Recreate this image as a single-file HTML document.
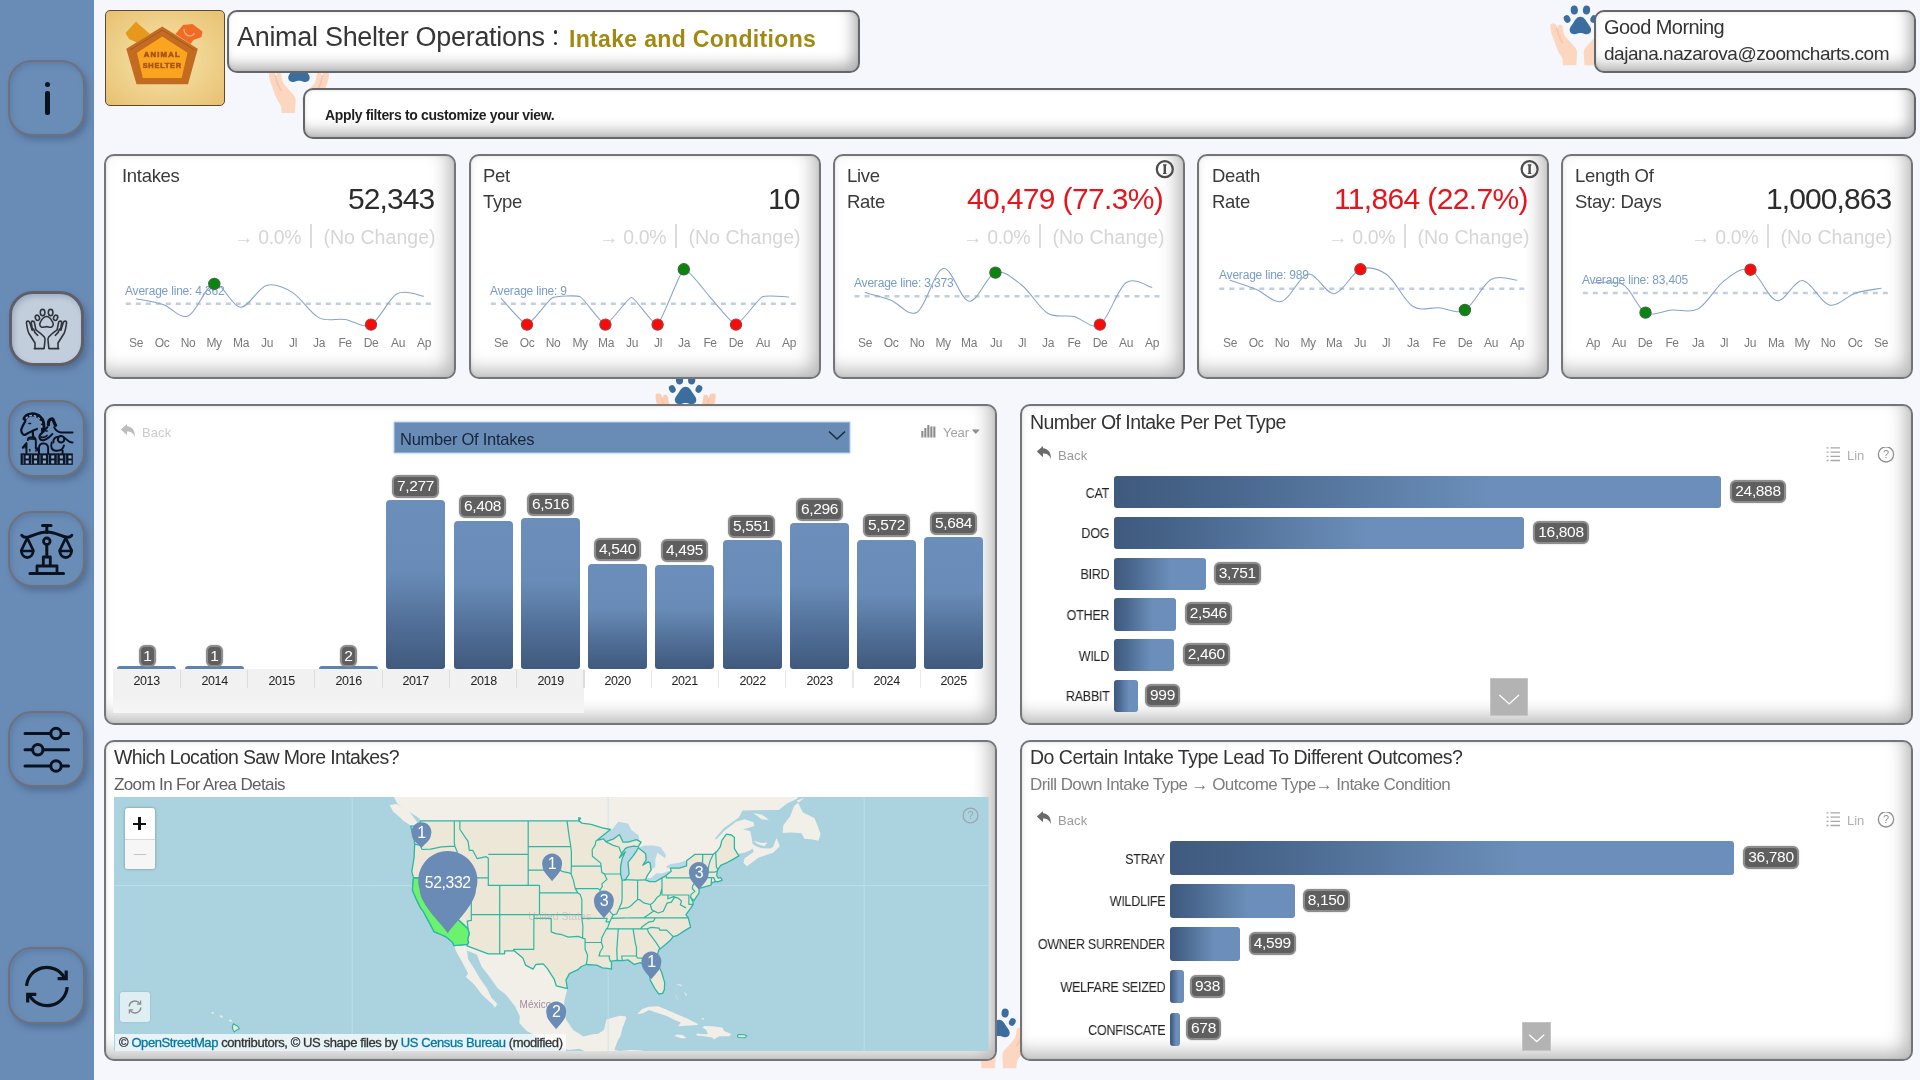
<!DOCTYPE html>
<html lang="en"><head><meta charset="utf-8"><title>Animal Shelter Operations</title>
<style>
*{box-sizing:border-box;margin:0;padding:0}
html,body{width:1920px;height:1080px;overflow:hidden}
body{background:#f5f7fc;font-family:"Liberation Sans",sans-serif;color:#333;position:relative}
.abs{position:absolute}
svg{will-change:transform}
.t{position:absolute;white-space:nowrap;line-height:1;transform-origin:0 0;will-change:transform}
.side{position:absolute;left:0;top:0;width:94px;height:1080px;background:#698cb7}
.sbtn{position:absolute;left:8.200px;width:77px;height:76.500px;border:2.600px solid #6e717b;border-radius:24px;background:#6a8db8;box-shadow:3px 4px 6px rgba(40,60,90,.35), inset 2px 3px 5px rgba(60,85,120,.25)}
.sbtn.act{background:#c3cedc;border-color:#5e5f68;left:8.800px;width:75.500px;height:75px;border-width:3px}
.box{position:absolute;background:#fff;border:2px solid #64666a;border-radius:10px;box-shadow:inset -7px -8px 14px -2px rgba(0,0,0,.30), inset 0 0 3px rgba(0,0,0,.10)}
.card{position:absolute;background:#fff;border:2px solid #747578;border-radius:10px;box-shadow:inset -8px -9px 18px -2px rgba(0,0,0,.27), inset 0 0 3px rgba(0,0,0,.10)}
.panel{position:absolute;background:#fff;border:2px solid #747578;border-radius:10px;box-shadow:inset -8px -9px 18px -2px rgba(0,0,0,.27), inset 0 0 3px rgba(0,0,0,.10)}
.vl{will-change:transform;position:absolute;background:#5f5f5f;border:2px solid #8d8d8d;border-radius:6px;color:#fff;font-size:15.500px;line-height:18.500px;height:22.500px;text-align:center;white-space:nowrap;box-shadow:0 0 1.500px rgba(120,120,120,.55)}
.hb{position:absolute;height:33px;border-radius:3px;background:linear-gradient(90deg,#3f5a7e 0,#6b8fba 330px)}
.cl{will-change:transform;position:absolute;font-size:14.500px;color:#222;text-align:right;white-space:nowrap;line-height:1;transform:scaleX(.865);transform-origin:100% 50%;letter-spacing:-.3px}
</style></head><body>
<svg class="abs" style="left:0;top:0" width="1920" height="1080" viewBox="0 0 1920 1080">
<g transform="translate(299 73.7) scale(1.0)"><path d="M-30-1.500c-.5 5 1.200 9.800 3 14.100 1.500 4.500 3.200 9 5.100 13.300 1.400 2.700 3.800 5 4.100 7.400l.4 6h13.300l.8-13.400c-.6-3.600-3.600-6.200-6-8.900-2.500-2.900-5-5.200-6.600-8.100-1.300-2.500-1.400-6.500-2.200-8.900-.6-1.700-3.300-1.800-4.200 0-.5 1 .2 5.500-.2 5.500s-.9-4.600-1.700-6.600c-.9-1.700-4.800-2-5.800-.4z" fill="#fcd6bf"/><path d="M30-1.500c.5 5-1.200 9.800-3 14.100-1.500 4.500-3.200 9-5.100 13.300-1.400 2.700-3.800 5-4.100 7.400l-.4 6h-13.300l-.8-13.400c.6-3.600 3.600-6.200 6-8.900 2.500-2.900 5-5.200 6.600-8.100 1.300-2.500 1.400-6.500 2.200-8.900.6-1.700 3.300-1.800 4.200 0 .5 1-.2 5.500.2 5.500s.9-4.600 1.700-6.600c.9-1.700 4.800-2 5.800-.4z" fill="#fcd6bf"/><path d="M-23.500 2c.8 6 2.800 10.500 5.500 14.500" stroke="#f6c4a8" stroke-width="1.600" fill="none" stroke-linecap="round"/><path d="M23.500 2c-.8 6-2.800 10.500-5.500 14.500" stroke="#f6c4a8" stroke-width="1.600" fill="none" stroke-linecap="round"/><g fill="#3b6e9f"><ellipse cx="-6.100" cy="-16" rx="3.600" ry="4.500" transform="rotate(-6 -6.100 -16)"/><ellipse cx="6.100" cy="-16" rx="3.600" ry="4.500" transform="rotate(6 6.100 -16)"/><ellipse cx="-13.300" cy="-7" rx="3.200" ry="3.900" transform="rotate(-28 -13.300 -7)"/><ellipse cx="13.300" cy="-7" rx="3.200" ry="3.900" transform="rotate(28 13.300 -7)"/><path d="M0-9.300c-3.300 0-5.200 3-7 6-1.700 2.600-4.300 5-3.600 8.300.6 2.800 3.600 3.700 6 3.100 1.600-.4 3-1 4.600-1s3 .6 4.600 1c2.400.6 5.400-.3 6-3.100.7-3.300-1.900-5.700-3.600-8.300-1.800-3-3.700-6-7-6z"/></g></g>
<g transform="translate(1580.4 26) scale(1.0)"><path d="M-30-1.500c-.5 5 1.200 9.800 3 14.100 1.500 4.500 3.200 9 5.100 13.300 1.400 2.700 3.800 5 4.100 7.400l.4 6h13.300l.8-13.400c-.6-3.600-3.600-6.200-6-8.900-2.500-2.900-5-5.200-6.600-8.100-1.300-2.500-1.400-6.500-2.200-8.900-.6-1.700-3.300-1.800-4.200 0-.5 1 .2 5.500-.2 5.500s-.9-4.600-1.700-6.600c-.9-1.700-4.800-2-5.800-.4z" fill="#fcd6bf"/><path d="M30-1.500c.5 5-1.200 9.800-3 14.100-1.500 4.500-3.200 9-5.100 13.300-1.400 2.700-3.800 5-4.100 7.400l-.4 6h-13.300l-.8-13.400c.6-3.600 3.600-6.200 6-8.900 2.500-2.900 5-5.200 6.600-8.100 1.300-2.500 1.400-6.500 2.200-8.900.6-1.700 3.300-1.800 4.200 0 .5 1-.2 5.500.2 5.500s.9-4.600 1.700-6.600c.9-1.700 4.800-2 5.800-.4z" fill="#fcd6bf"/><path d="M-23.500 2c.8 6 2.800 10.500 5.500 14.500" stroke="#f6c4a8" stroke-width="1.600" fill="none" stroke-linecap="round"/><path d="M23.500 2c-.8 6-2.800 10.500-5.500 14.500" stroke="#f6c4a8" stroke-width="1.600" fill="none" stroke-linecap="round"/><g fill="#3b6e9f"><ellipse cx="-6.100" cy="-16" rx="3.600" ry="4.500" transform="rotate(-6 -6.100 -16)"/><ellipse cx="6.100" cy="-16" rx="3.600" ry="4.500" transform="rotate(6 6.100 -16)"/><ellipse cx="-13.300" cy="-7" rx="3.200" ry="3.900" transform="rotate(-28 -13.300 -7)"/><ellipse cx="13.300" cy="-7" rx="3.200" ry="3.900" transform="rotate(28 13.300 -7)"/><path d="M0-9.300c-3.300 0-5.200 3-7 6-1.700 2.600-4.300 5-3.600 8.300.6 2.800 3.600 3.700 6 3.100 1.600-.4 3-1 4.600-1s3 .6 4.600 1c2.400.6 5.400-.3 6-3.100.7-3.300-1.900-5.700-3.600-8.300-1.800-3-3.700-6-7-6z"/></g></g>
<g transform="translate(685.6 396) scale(1.0)"><path d="M-30-1.500c-.5 5 1.200 9.800 3 14.100 1.500 4.500 3.200 9 5.100 13.300 1.400 2.700 3.800 5 4.100 7.400l.4 6h13.300l.8-13.400c-.6-3.600-3.600-6.200-6-8.900-2.500-2.900-5-5.200-6.600-8.100-1.300-2.500-1.400-6.500-2.200-8.900-.6-1.700-3.300-1.800-4.200 0-.5 1 .2 5.500-.2 5.500s-.9-4.600-1.700-6.600c-.9-1.700-4.800-2-5.800-.4z" fill="#fbcdb2"/><path d="M30-1.500c.5 5-1.200 9.800-3 14.100-1.500 4.500-3.200 9-5.100 13.300-1.400 2.700-3.800 5-4.100 7.400l-.4 6h-13.300l-.8-13.400c.6-3.600 3.600-6.200 6-8.900 2.500-2.900 5-5.200 6.600-8.100 1.300-2.500 1.400-6.500 2.200-8.900.6-1.700 3.300-1.800 4.200 0 .5 1-.2 5.500.2 5.500s.9-4.600 1.700-6.600c.9-1.700 4.800-2 5.800-.4z" fill="#fbcdb2"/><path d="M-23.500 2c.8 6 2.800 10.500 5.500 14.500" stroke="#f6c4a8" stroke-width="1.600" fill="none" stroke-linecap="round"/><path d="M23.500 2c-.8 6-2.800 10.500-5.500 14.500" stroke="#f6c4a8" stroke-width="1.600" fill="none" stroke-linecap="round"/><g fill="#3b6e9f"><ellipse cx="-6.100" cy="-16" rx="3.600" ry="4.500" transform="rotate(-6 -6.100 -16)"/><ellipse cx="6.100" cy="-16" rx="3.600" ry="4.500" transform="rotate(6 6.100 -16)"/><ellipse cx="-13.300" cy="-7" rx="3.200" ry="3.900" transform="rotate(-28 -13.300 -7)"/><ellipse cx="13.300" cy="-7" rx="3.200" ry="3.900" transform="rotate(28 13.300 -7)"/><path d="M0-9.300c-3.300 0-5.200 3-7 6-1.700 2.600-4.300 5-3.600 8.300.6 2.800 3.600 3.700 6 3.100 1.600-.4 3-1 4.600-1s3 .6 4.600 1c2.400.6 5.400-.3 6-3.100.7-3.300-1.900-5.700-3.600-8.300-1.800-3-3.700-6-7-6z"/></g></g>
<g transform="translate(999 1029) scale(1.0)"><path d="M-30-1.500c-.5 5 1.200 9.800 3 14.100 1.500 4.500 3.200 9 5.100 13.300 1.400 2.700 3.800 5 4.100 7.400l.4 6h13.300l.8-13.400c-.6-3.600-3.600-6.200-6-8.900-2.500-2.900-5-5.200-6.600-8.100-1.300-2.500-1.400-6.500-2.200-8.900-.6-1.700-3.300-1.800-4.200 0-.5 1 .2 5.500-.2 5.500s-.9-4.600-1.700-6.600c-.9-1.700-4.800-2-5.800-.4z" fill="#fcd6bf"/><path d="M30-1.500c.5 5-1.200 9.800-3 14.100-1.500 4.500-3.200 9-5.100 13.300-1.400 2.700-3.800 5-4.100 7.400l-.4 6h-13.300l-.8-13.400c.6-3.600 3.600-6.200 6-8.900 2.500-2.900 5-5.200 6.600-8.100 1.300-2.500 1.400-6.500 2.200-8.900.6-1.700 3.300-1.800 4.200 0 .5 1-.2 5.500.2 5.500s.9-4.600 1.700-6.600c.9-1.700 4.800-2 5.800-.4z" fill="#fcd6bf"/><path d="M-23.500 2c.8 6 2.800 10.500 5.500 14.500" stroke="#f6c4a8" stroke-width="1.600" fill="none" stroke-linecap="round"/><path d="M23.500 2c-.8 6-2.800 10.500-5.500 14.500" stroke="#f6c4a8" stroke-width="1.600" fill="none" stroke-linecap="round"/><g fill="#3b6e9f"><ellipse cx="-6.100" cy="-16" rx="3.600" ry="4.500" transform="rotate(-6 -6.100 -16)"/><ellipse cx="6.100" cy="-16" rx="3.600" ry="4.500" transform="rotate(6 6.100 -16)"/><ellipse cx="-13.300" cy="-7" rx="3.200" ry="3.900" transform="rotate(-28 -13.300 -7)"/><ellipse cx="13.300" cy="-7" rx="3.200" ry="3.900" transform="rotate(28 13.300 -7)"/><path d="M0-9.300c-3.300 0-5.200 3-7 6-1.700 2.600-4.300 5-3.600 8.300.6 2.800 3.600 3.700 6 3.100 1.600-.4 3-1 4.600-1s3 .6 4.600 1c2.400.6 5.400-.3 6-3.100.7-3.300-1.900-5.700-3.600-8.300-1.800-3-3.700-6-7-6z"/></g></g>
</svg>
<div class="abs" style="left:105px;top:10px;width:120px;height:95.500px;border:1.500px solid #5d4a2c;border-radius:5px;background:radial-gradient(ellipse at 50% 50%,#f6e6b0 0,#f0d592 45%,#e8c070 100%)"></div>
<svg class="abs" style="left:105px;top:10px" width="120" height="96" viewBox="0 0 120 96"><polygon points="20.500,23 31,11.500 34,14.500 45,24 32,32.500 24,29" fill="#e6981d"/><polygon points="70.500,24 78,15 87.500,14 97.500,21.500 96.500,27 88.500,30 85.500,34" fill="#f06c25"/><path d="M79 19c0 4 2.500 7 6 7 2 0 3.500-1 4.500-3" fill="none" stroke="#f8b08a" stroke-width="1.200"/><polygon points="57.300,16.400 21.300,38.700 31.500,74.300 83,74.300 92.800,38.700" fill="#c46b22"/><polygon points="57.300,26.600 32,42.700 37.800,68 76.700,68 82.500,42.700" fill="#fba41f"/><path d="M25 40l32.300-20 32.200 20" fill="none" stroke="#a9561b" stroke-width="1"/><text x="57.300" y="46.500" text-anchor="middle" font-family="Liberation Sans" font-weight="bold" font-size="7.800" fill="#a8521a" letter-spacing="1.1" stroke="#a8521a" stroke-width=".6">ANIMAL</text><text x="57.300" y="57.800" text-anchor="middle" font-family="Liberation Sans" font-weight="bold" font-size="7.400" fill="#a8521a" letter-spacing=".75" stroke="#a8521a" stroke-width=".5">SHELTER</text></svg>
<div class="box" style="left:226.500px;top:9.500px;width:633px;height:63.500px"></div>
<div class="t" style="left:237px;top:23.5px;font-size:27px;color:#363636;letter-spacing:-0.3px;">Animal Shelter Operations</div>
<div class="abs" style="left:553.500px;top:30px;width:3.600px;height:3.600px;border-radius:50%;background:#2b2b2b"></div>
<div class="abs" style="left:553.500px;top:41.500px;width:3.600px;height:3.600px;border-radius:50%;background:#2b2b2b"></div>
<div class="t" style="left:569px;top:27.5px;font-size:23px;color:#a08a12;font-weight:bold;letter-spacing:0.33px;">Intake and Conditions</div>
<div class="box" style="left:303px;top:87.500px;width:1612.500px;height:51.500px"></div>
<div class="t" style="left:325px;top:107.5px;font-size:14px;color:#1f1f1f;font-weight:bold;letter-spacing:-0.35px;">Apply filters to customize your view.</div>
<div class="box" style="left:1593.500px;top:9.500px;width:322px;height:63.500px;overflow:hidden"><div class="abs" style="left:60px;top:59px;width:180px;height:1px;border-top:1.500px dashed #9a9a9a;opacity:.6"></div></div>
<div class="t" style="left:1604px;top:16.8px;font-size:20px;color:#333;letter-spacing:-0.55px;">Good Morning</div>
<div class="t" style="left:1604px;top:43.5px;font-size:19px;color:#333;letter-spacing:-0.47px;">dajana.nazarova@zoomcharts.com</div>
<div class="side"></div>
<div class="sbtn" style="top:59.5px"></div>
<div class="sbtn act" style="top:290.6px"></div>
<div class="sbtn" style="top:400.4px"></div>
<div class="sbtn" style="top:510.5px"></div>
<div class="sbtn" style="top:710.5px"></div>
<div class="sbtn" style="top:947.4px"></div>
<div class="abs" style="left:44.5px;top:82px;width:5px;height:5px;border-radius:50%;background:#0a1220"></div>
<div class="abs" style="left:44.5px;top:91px;width:5px;height:24px;border-radius:2px;background:#0a1220"></div>
<svg class="abs" style="left:0;top:0" width="95" height="1080" viewBox="0 0 95 1080" fill="none" stroke="#0a1220" stroke-linecap="round" stroke-linejoin="round">
<g stroke="#2f343c" stroke-width="1.6"><ellipse cx="42.6" cy="312.6" rx="2.3" ry="3.2"/><ellipse cx="50.6" cy="312.6" rx="2.3" ry="3.2"/><ellipse cx="37.4" cy="317.8" rx="2" ry="2.7" transform="rotate(-20 37.4 317.8)"/><ellipse cx="55.6" cy="317.8" rx="2" ry="2.7" transform="rotate(20 55.6 317.8)"/><path d="M46.5 316.5c-2.6 0-4.3 2.4-5.6 4.6-1.2 1.9-2 4.6 0.4 5.9 1.8 0.9 3.5-0.4 5.2-0.4s3.4 1.3 5.2 0.4c2.4-1.3 1.6-4 0.4-5.9-1.3-2.2-3-4.6-5.6-4.600z"/><path d="M35 348.5v-5.5l-6-9.5c-1-1.800-2.200-8-2.600-11 .1-1.600 2.600-2 3.300 0l2.400 7.500"/><path d="M32.500 330l-1.300-7.500c.1-1.700 2.700-1.900 3.200-.200l1.500 7.500c3 2.200 6.500 4.800 8.400 7.200 1.200 1.600 .900 3.400 .500 5.300l-.700 6.200"/><path d="M33.500 329c.400 2.500 2 4.500 4.200 6.300"/><path d="M34.300 348.600h9.400"/><path d="M58 348.500v-5.500l6-9.500c1-1.800 2.200-8 2.600-11-.1-1.600-2.600-2-3.300 0l-2.400 7.500"/><path d="M60.500 330l1.300-7.500c-.1-1.700-2.700-1.900-3.200-.200l-1.500 7.500c-3 2.200-6.500 4.800-8.400 7.200-1.200 1.600-.900 3.400-.500 5.300l.700 6.200"/><path d="M59.500 329c-.400 2.500-2 4.500-4.200 6.300"/><path d="M58.700 348.600h-9.400"/></g>
<g transform="translate(16 408) scale(.0574)" stroke-width="38"><rect x="80" y="790" width="910" height="200" fill="#0d1626" stroke="none"/><rect x="168" y="826" width="54" height="54" fill="#8ca6c8" stroke="none"/><rect x="168" y="913" width="54" height="54" fill="#8ca6c8" stroke="none"/><rect x="313" y="826" width="54" height="54" fill="#8ca6c8" stroke="none"/><rect x="313" y="913" width="54" height="54" fill="#8ca6c8" stroke="none"/><rect x="468" y="826" width="54" height="54" fill="#8ca6c8" stroke="none"/><rect x="468" y="913" width="54" height="54" fill="#8ca6c8" stroke="none"/><rect x="613" y="826" width="54" height="54" fill="#8ca6c8" stroke="none"/><rect x="613" y="913" width="54" height="54" fill="#8ca6c8" stroke="none"/><rect x="763" y="826" width="54" height="54" fill="#8ca6c8" stroke="none"/><rect x="763" y="913" width="54" height="54" fill="#8ca6c8" stroke="none"/><rect x="913" y="826" width="54" height="54" fill="#8ca6c8" stroke="none"/><rect x="913" y="913" width="54" height="54" fill="#8ca6c8" stroke="none"/><rect x="118" y="815" width="14" height="160" fill="#5f7ea8" stroke="none"/><rect x="261" y="815" width="14" height="160" fill="#5f7ea8" stroke="none"/><rect x="411" y="815" width="14" height="160" fill="#5f7ea8" stroke="none"/><rect x="561" y="815" width="14" height="160" fill="#5f7ea8" stroke="none"/><rect x="709" y="815" width="14" height="160" fill="#5f7ea8" stroke="none"/><rect x="859" y="815" width="14" height="160" fill="#5f7ea8" stroke="none"/><path d="M150 185C190 100 330 85 420 165C475 215 485 300 470 395" stroke-width="74"/><path d="M178 178C215 118 320 112 395 175C440 218 452 290 448 360" stroke="#8ba5c8" stroke-width="26" stroke-dasharray="26 52"/><path d="M165 225C130 290 92 345 90 395C98 440 128 475 152 470C205 440 285 395 365 365"/><path d="M292 400C290 450 298 500 312 540"/><path d="M225 270l30 0" stroke-width="26"/><path d="M565 295C560 235 590 195 630 188C662 205 655 255 690 300" stroke-width="56"/><path d="M545 335C500 385 440 440 412 482C400 530 432 572 482 560C540 545 600 490 632 455"/><path d="M440 505C470 520 510 505 540 480" stroke-width="30"/><path d="M665 335C690 392 722 420 782 426L985 428" stroke-width="34"/><path d="M520 400l24 0" stroke-width="24"/><circle cx="785" cy="545" r="56" stroke-width="36"/><path d="M652 600C640 540 690 498 742 500M838 515C880 535 900 600 985 602" stroke-width="34"/><path d="M622 600C600 680 622 742 700 746C772 750 822 722 836 652M812 742V790" stroke-width="34"/><path d="M118 692L182 612V790M205 560C205 520 240 505 300 510C332 516 346 540 346 582V700" stroke-width="34"/><path d="M112 690l55-62v62zM335 745l35-60 40 60z" fill="#0a1220" stroke-width="10"/><path d="M400 790V700C400 642 440 616 482 616C532 620 560 660 560 702V790" stroke-width="34"/><path d="M232 540h70M240 720v30" stroke-width="24"/></g>
<g stroke-width="3"><path d="M42.500 525.500h8.500"/><path d="M46.800 526v6.500M46.800 544.500v12"/><circle cx="46.800" cy="541.300" r="3.300" stroke-width="2.800"/><path d="M21.800 535.300c1.500 2 4 2.500 7 1.500 5.500-1.800 11.500-4.800 18-4.800s12.500 3 18 4.800c3 1 5.500.5 7-1.500"/><path d="M27.300 538l-6 12.500c.3 4 2.800 7 6 7s5.700-3 6-7z" stroke-width="2.800"/><path d="M21.500 551h11.600" stroke-width="2.600"/><path d="M65.700 538l-6 12.500c.3 4 2.800 7 6 7s5.700-3 6-7z" stroke-width="2.800"/><path d="M59.900 551h11.600" stroke-width="2.600"/><path d="M43.300 565.500v-8.500h7v8.500" stroke-width="2.800"/><path d="M37 573v-7h20v7" stroke-width="2.800"/><path d="M30 573.600h33.500"/></g>
<g stroke-width="3"><path d="M25 733.500h25.500M61.500 733.500h7"/><circle cx="56" cy="733.500" r="5.200"/><path d="M25 749.800h7.500M43.300 749.800h25.200"/><circle cx="37.800" cy="749.800" r="5.200"/><path d="M25 766h25.500M61.500 766h7"/><circle cx="56" cy="766" r="5.200"/></g>
<g stroke-width="3.200" stroke-linecap="butt" stroke-linejoin="miter"><path d="M26.600 985.800a20.200 20.200 0 0 1 37.500-8.600"/><path d="M66.200 970.600v8h-8.600" /><path d="M67.200 987.200a20.200 20.200 0 0 1-37.500 8.600"/><path d="M27.700 1002.400v-8h8.600"/></g>
</svg>
<div class="card" style="left:103.8px;top:153.800px;width:352px;height:225px"></div>
<div class="t" style="left:122.0px;top:167px;font-size:18.5px;color:#3a3a3a;letter-spacing:-0.3px;">Intakes</div>
<div class="t" style="right:1485.7px;top:183.600px;font-size:30px;color:#2c2c2c;letter-spacing:-0.92px">52,343</div>
<div class="t" style="right:1484.2px;top:223.500px;font-size:19.500px;color:#d6d6d6;letter-spacing:-.350px">→ 0.0% <span style="display:inline-block;width:2px;height:24px;background:#dcdcdc;vertical-align:-4px;margin:0 6px 0 4px"></span> <span style="letter-spacing:.050px">(No Change)</span></div>
<div class="t" style="left:125.3px;top:284.6070526774053px;font-size:12px;color:#7a9bc8;letter-spacing:-0.2px;">Average line: 4,362</div>
<div class="t" style="left:121.0px;top:337px;width:30px;text-align:center;font-size:12px;color:#7a7a7a;letter-spacing:-.400px">Se</div>
<div class="t" style="left:147.2px;top:337px;width:30px;text-align:center;font-size:12px;color:#7a7a7a;letter-spacing:-.400px">Oc</div>
<div class="t" style="left:173.3px;top:337px;width:30px;text-align:center;font-size:12px;color:#7a7a7a;letter-spacing:-.400px">No</div>
<div class="t" style="left:199.4px;top:337px;width:30px;text-align:center;font-size:12px;color:#7a7a7a;letter-spacing:-.400px">My</div>
<div class="t" style="left:225.6px;top:337px;width:30px;text-align:center;font-size:12px;color:#7a7a7a;letter-spacing:-.400px">Ma</div>
<div class="t" style="left:251.8px;top:337px;width:30px;text-align:center;font-size:12px;color:#7a7a7a;letter-spacing:-.400px">Ju</div>
<div class="t" style="left:277.9px;top:337px;width:30px;text-align:center;font-size:12px;color:#7a7a7a;letter-spacing:-.400px">Jl</div>
<div class="t" style="left:304.0px;top:337px;width:30px;text-align:center;font-size:12px;color:#7a7a7a;letter-spacing:-.400px">Ja</div>
<div class="t" style="left:330.2px;top:337px;width:30px;text-align:center;font-size:12px;color:#7a7a7a;letter-spacing:-.400px">Fe</div>
<div class="t" style="left:356.4px;top:337px;width:30px;text-align:center;font-size:12px;color:#7a7a7a;letter-spacing:-.400px">De</div>
<div class="t" style="left:382.5px;top:337px;width:30px;text-align:center;font-size:12px;color:#7a7a7a;letter-spacing:-.400px">Au</div>
<div class="t" style="left:408.6px;top:337px;width:30px;text-align:center;font-size:12px;color:#7a7a7a;letter-spacing:-.400px">Ap</div>
<div class="card" style="left:468.8px;top:153.800px;width:352px;height:225px"></div>
<div class="t" style="left:483.2px;top:167px;font-size:18.5px;color:#3a3a3a;letter-spacing:-0.3px;">Pet</div>
<div class="t" style="left:483.2px;top:192.5px;font-size:18.5px;color:#3a3a3a;letter-spacing:-0.3px;">Type</div>
<div class="t" style="right:1120.7px;top:183.600px;font-size:30px;color:#2c2c2c;letter-spacing:-0.92px">10</div>
<div class="t" style="right:1119.2px;top:223.500px;font-size:19.500px;color:#d6d6d6;letter-spacing:-.350px">→ 0.0% <span style="display:inline-block;width:2px;height:24px;background:#dcdcdc;vertical-align:-4px;margin:0 6px 0 4px"></span> <span style="letter-spacing:.050px">(No Change)</span></div>
<div class="t" style="left:490.3px;top:284.6070526774053px;font-size:12px;color:#7a9bc8;letter-spacing:-0.2px;">Average line: 9</div>
<div class="t" style="left:486.0px;top:337px;width:30px;text-align:center;font-size:12px;color:#7a7a7a;letter-spacing:-.400px">Se</div>
<div class="t" style="left:512.1px;top:337px;width:30px;text-align:center;font-size:12px;color:#7a7a7a;letter-spacing:-.400px">Oc</div>
<div class="t" style="left:538.3px;top:337px;width:30px;text-align:center;font-size:12px;color:#7a7a7a;letter-spacing:-.400px">No</div>
<div class="t" style="left:564.5px;top:337px;width:30px;text-align:center;font-size:12px;color:#7a7a7a;letter-spacing:-.400px">My</div>
<div class="t" style="left:590.6px;top:337px;width:30px;text-align:center;font-size:12px;color:#7a7a7a;letter-spacing:-.400px">Ma</div>
<div class="t" style="left:616.8px;top:337px;width:30px;text-align:center;font-size:12px;color:#7a7a7a;letter-spacing:-.400px">Ju</div>
<div class="t" style="left:642.9px;top:337px;width:30px;text-align:center;font-size:12px;color:#7a7a7a;letter-spacing:-.400px">Jl</div>
<div class="t" style="left:669.0px;top:337px;width:30px;text-align:center;font-size:12px;color:#7a7a7a;letter-spacing:-.400px">Ja</div>
<div class="t" style="left:695.2px;top:337px;width:30px;text-align:center;font-size:12px;color:#7a7a7a;letter-spacing:-.400px">Fe</div>
<div class="t" style="left:721.4px;top:337px;width:30px;text-align:center;font-size:12px;color:#7a7a7a;letter-spacing:-.400px">De</div>
<div class="t" style="left:747.5px;top:337px;width:30px;text-align:center;font-size:12px;color:#7a7a7a;letter-spacing:-.400px">Au</div>
<div class="t" style="left:773.6px;top:337px;width:30px;text-align:center;font-size:12px;color:#7a7a7a;letter-spacing:-.400px">Ap</div>
<div class="card" style="left:832.5px;top:153.800px;width:352px;height:225px"></div>
<div class="t" style="left:846.9px;top:167px;font-size:18.5px;color:#3a3a3a;letter-spacing:-0.3px;">Live</div>
<div class="t" style="left:846.9px;top:192.5px;font-size:18.5px;color:#3a3a3a;letter-spacing:-0.3px;">Rate</div>
<div class="t" style="right:757.0px;top:183.600px;font-size:30px;color:#e8141c;letter-spacing:-0.65px">40,479 (77.3%)</div>
<div class="t" style="right:755.5px;top:223.500px;font-size:19.500px;color:#d6d6d6;letter-spacing:-.350px">→ 0.0% <span style="display:inline-block;width:2px;height:24px;background:#dcdcdc;vertical-align:-4px;margin:0 6px 0 4px"></span> <span style="letter-spacing:.050px">(No Change)</span></div>
<div class="t" style="left:854.0px;top:276.77074444928166px;font-size:12px;color:#7a9bc8;letter-spacing:-0.2px;">Average line: 3,373</div>
<div class="t" style="left:849.7px;top:337px;width:30px;text-align:center;font-size:12px;color:#7a7a7a;letter-spacing:-.400px">Se</div>
<div class="t" style="left:875.9px;top:337px;width:30px;text-align:center;font-size:12px;color:#7a7a7a;letter-spacing:-.400px">Oc</div>
<div class="t" style="left:902.0px;top:337px;width:30px;text-align:center;font-size:12px;color:#7a7a7a;letter-spacing:-.400px">No</div>
<div class="t" style="left:928.2px;top:337px;width:30px;text-align:center;font-size:12px;color:#7a7a7a;letter-spacing:-.400px">My</div>
<div class="t" style="left:954.3px;top:337px;width:30px;text-align:center;font-size:12px;color:#7a7a7a;letter-spacing:-.400px">Ma</div>
<div class="t" style="left:980.5px;top:337px;width:30px;text-align:center;font-size:12px;color:#7a7a7a;letter-spacing:-.400px">Ju</div>
<div class="t" style="left:1006.6px;top:337px;width:30px;text-align:center;font-size:12px;color:#7a7a7a;letter-spacing:-.400px">Jl</div>
<div class="t" style="left:1032.8px;top:337px;width:30px;text-align:center;font-size:12px;color:#7a7a7a;letter-spacing:-.400px">Ja</div>
<div class="t" style="left:1058.9px;top:337px;width:30px;text-align:center;font-size:12px;color:#7a7a7a;letter-spacing:-.400px">Fe</div>
<div class="t" style="left:1085.0px;top:337px;width:30px;text-align:center;font-size:12px;color:#7a7a7a;letter-spacing:-.400px">De</div>
<div class="t" style="left:1111.2px;top:337px;width:30px;text-align:center;font-size:12px;color:#7a7a7a;letter-spacing:-.400px">Au</div>
<div class="t" style="left:1137.3px;top:337px;width:30px;text-align:center;font-size:12px;color:#7a7a7a;letter-spacing:-.400px">Ap</div>
<div class="card" style="left:1197.3px;top:153.800px;width:352px;height:225px"></div>
<div class="t" style="left:1211.7px;top:167px;font-size:18.5px;color:#3a3a3a;letter-spacing:-0.3px;">Death</div>
<div class="t" style="left:1211.7px;top:192.5px;font-size:18.5px;color:#3a3a3a;letter-spacing:-0.3px;">Rate</div>
<div class="t" style="right:392.20000000000005px;top:183.600px;font-size:30px;color:#e8141c;letter-spacing:-0.65px">11,864 (22.7%)</div>
<div class="t" style="right:390.70000000000005px;top:223.500px;font-size:19.500px;color:#d6d6d6;letter-spacing:-.350px">→ 0.0% <span style="display:inline-block;width:2px;height:24px;background:#dcdcdc;vertical-align:-4px;margin:0 6px 0 4px"></span> <span style="letter-spacing:.050px">(No Change)</span></div>
<div class="t" style="left:1218.8px;top:269.369786678276px;font-size:12px;color:#7a9bc8;letter-spacing:-0.2px;">Average line: 989</div>
<div class="t" style="left:1214.5px;top:337px;width:30px;text-align:center;font-size:12px;color:#7a7a7a;letter-spacing:-.400px">Se</div>
<div class="t" style="left:1240.7px;top:337px;width:30px;text-align:center;font-size:12px;color:#7a7a7a;letter-spacing:-.400px">Oc</div>
<div class="t" style="left:1266.8px;top:337px;width:30px;text-align:center;font-size:12px;color:#7a7a7a;letter-spacing:-.400px">No</div>
<div class="t" style="left:1293.0px;top:337px;width:30px;text-align:center;font-size:12px;color:#7a7a7a;letter-spacing:-.400px">My</div>
<div class="t" style="left:1319.1px;top:337px;width:30px;text-align:center;font-size:12px;color:#7a7a7a;letter-spacing:-.400px">Ma</div>
<div class="t" style="left:1345.2px;top:337px;width:30px;text-align:center;font-size:12px;color:#7a7a7a;letter-spacing:-.400px">Ju</div>
<div class="t" style="left:1371.4px;top:337px;width:30px;text-align:center;font-size:12px;color:#7a7a7a;letter-spacing:-.400px">Jl</div>
<div class="t" style="left:1397.5px;top:337px;width:30px;text-align:center;font-size:12px;color:#7a7a7a;letter-spacing:-.400px">Ja</div>
<div class="t" style="left:1423.7px;top:337px;width:30px;text-align:center;font-size:12px;color:#7a7a7a;letter-spacing:-.400px">Fe</div>
<div class="t" style="left:1449.8px;top:337px;width:30px;text-align:center;font-size:12px;color:#7a7a7a;letter-spacing:-.400px">De</div>
<div class="t" style="left:1476.0px;top:337px;width:30px;text-align:center;font-size:12px;color:#7a7a7a;letter-spacing:-.400px">Au</div>
<div class="t" style="left:1502.2px;top:337px;width:30px;text-align:center;font-size:12px;color:#7a7a7a;letter-spacing:-.400px">Ap</div>
<div class="card" style="left:1560.8px;top:153.800px;width:352px;height:225px"></div>
<div class="t" style="left:1575.2px;top:167px;font-size:18.5px;color:#3a3a3a;letter-spacing:-0.3px;">Length Of</div>
<div class="t" style="left:1575.2px;top:192.5px;font-size:18.5px;color:#3a3a3a;letter-spacing:-0.3px;">Stay: Days</div>
<div class="t" style="right:28.700000000000045px;top:183.600px;font-size:30px;color:#2c2c2c;letter-spacing:-0.92px">1,000,863</div>
<div class="t" style="right:27.200000000000045px;top:223.500px;font-size:19.500px;color:#d6d6d6;letter-spacing:-.350px">→ 0.0% <span style="display:inline-block;width:2px;height:24px;background:#dcdcdc;vertical-align:-4px;margin:0 6px 0 4px"></span> <span style="letter-spacing:.050px">(No Change)</span></div>
<div class="t" style="left:1582.3px;top:274.15864170657375px;font-size:12px;color:#7a9bc8;letter-spacing:-0.2px;">Average line: 83,405</div>
<div class="t" style="left:1578.0px;top:337px;width:30px;text-align:center;font-size:12px;color:#7a7a7a;letter-spacing:-.400px">Ap</div>
<div class="t" style="left:1604.2px;top:337px;width:30px;text-align:center;font-size:12px;color:#7a7a7a;letter-spacing:-.400px">Au</div>
<div class="t" style="left:1630.3px;top:337px;width:30px;text-align:center;font-size:12px;color:#7a7a7a;letter-spacing:-.400px">De</div>
<div class="t" style="left:1656.5px;top:337px;width:30px;text-align:center;font-size:12px;color:#7a7a7a;letter-spacing:-.400px">Fe</div>
<div class="t" style="left:1682.6px;top:337px;width:30px;text-align:center;font-size:12px;color:#7a7a7a;letter-spacing:-.400px">Ja</div>
<div class="t" style="left:1708.8px;top:337px;width:30px;text-align:center;font-size:12px;color:#7a7a7a;letter-spacing:-.400px">Jl</div>
<div class="t" style="left:1734.9px;top:337px;width:30px;text-align:center;font-size:12px;color:#7a7a7a;letter-spacing:-.400px">Ju</div>
<div class="t" style="left:1761.0px;top:337px;width:30px;text-align:center;font-size:12px;color:#7a7a7a;letter-spacing:-.400px">Ma</div>
<div class="t" style="left:1787.2px;top:337px;width:30px;text-align:center;font-size:12px;color:#7a7a7a;letter-spacing:-.400px">My</div>
<div class="t" style="left:1813.3px;top:337px;width:30px;text-align:center;font-size:12px;color:#7a7a7a;letter-spacing:-.400px">No</div>
<div class="t" style="left:1839.5px;top:337px;width:30px;text-align:center;font-size:12px;color:#7a7a7a;letter-spacing:-.400px">Oc</div>
<div class="t" style="left:1865.7px;top:337px;width:30px;text-align:center;font-size:12px;color:#7a7a7a;letter-spacing:-.400px">Se</div>
<svg class="abs" style="left:0;top:0" width="1920" height="400" viewBox="0 0 1920 400" fill="none">
<path d="M125.8 303.7H430.8" stroke="#c2cde0" stroke-width="2.500" stroke-dasharray="5 5"/>
<path d="M135.9 298.7C140.5 299.7 154.4 301.7 163.1 304.5C171.8 307.4 179.6 319.3 188.2 315.9C196.7 312.4 205.6 285.3 214.3 283.9C223.0 282.4 231.7 306.9 240.4 307.2C249.1 307.4 257.8 287.8 266.5 285.4C275.2 283.0 283.9 287.2 292.6 292.6C301.3 297.9 310.1 313.1 318.8 317.6C327.5 322.1 336.2 318.2 344.9 319.4C353.6 320.5 362.3 328.9 371.0 324.6C379.7 320.3 388.3 298.4 397.1 293.7C405.9 288.9 419.4 295.8 423.9 296.3" stroke="#86a4cb" stroke-width="1.050"/>
<circle cx="214.3" cy="283.9" r="5.600" fill="#0c8410" stroke="#3a6a3a" stroke-width="1.200"/>
<circle cx="371.0" cy="324.6" r="5.600" fill="#fb0a0a" stroke="#a04040" stroke-width="1.200"/>
<path d="M490.8 303.7H795.8" stroke="#c2cde0" stroke-width="2.500" stroke-dasharray="5 5"/>
<path d="M500.9 298.0C502.8 300.0 523.3 324.6 527.0 324.6C530.8 324.6 548.2 300.0 552.1 298.0C556.0 296.0 576.5 295.0 580.4 296.9C584.3 298.9 601.6 324.5 605.4 324.6C609.2 324.6 627.7 297.4 631.5 297.4C635.4 297.4 653.8 326.6 657.6 324.6C661.5 322.5 679.9 271.3 683.8 269.3C687.6 267.3 706.1 292.9 709.9 296.9C713.7 301.0 732.2 324.6 736.0 324.6C739.8 324.6 758.2 299.0 762.1 296.9C766.0 294.9 786.9 296.9 788.9 296.9" stroke="#86a4cb" stroke-width="1.050"/>
<circle cx="683.8" cy="269.3" r="5.600" fill="#0c8410" stroke="#3a6a3a" stroke-width="1.200"/>
<circle cx="527.0" cy="324.6" r="5.600" fill="#fb0a0a" stroke="#a04040" stroke-width="1.200"/>
<circle cx="605.4" cy="324.6" r="5.600" fill="#fb0a0a" stroke="#a04040" stroke-width="1.200"/>
<circle cx="657.6" cy="324.6" r="5.600" fill="#fb0a0a" stroke="#a04040" stroke-width="1.200"/>
<circle cx="736.0" cy="324.6" r="5.600" fill="#fb0a0a" stroke="#a04040" stroke-width="1.200"/>
<circle cx="1164.8" cy="169.2" r="8" stroke="#4c4c4c" stroke-width="2.200"/><path d="M1164.8 164.89999999999998v8.600" stroke="#4c4c4c" stroke-width="2.400"/><path d="M1163.0 164.89999999999998h3.600M1163.0 173.5h3.600" stroke="#4c4c4c" stroke-width="1.100"/>
<path d="M854.5 296.3H1159.5" stroke="#c2cde0" stroke-width="2.500" stroke-dasharray="5 5"/>
<path d="M864.8 292.6C869.2 293.8 882.2 296.9 890.9 300.2C899.7 303.5 908.4 317.4 917.1 312.2C925.8 306.9 934.5 270.4 943.2 268.6C951.9 266.8 960.6 300.6 969.3 301.3C978.0 301.9 986.7 275.3 995.4 272.6C1004.1 269.8 1012.8 278.2 1021.6 285.0C1030.3 291.7 1039.0 308.0 1047.7 313.3C1056.4 318.5 1065.1 314.6 1073.8 316.5C1082.5 318.4 1091.2 330.2 1099.9 324.6C1108.6 319.0 1117.3 288.9 1126.0 282.8C1134.7 276.6 1147.8 286.8 1152.2 287.6" stroke="#86a4cb" stroke-width="1.050"/>
<circle cx="995.4" cy="272.6" r="5.600" fill="#0c8410" stroke="#3a6a3a" stroke-width="1.200"/>
<circle cx="1099.9" cy="324.6" r="5.600" fill="#fb0a0a" stroke="#a04040" stroke-width="1.200"/>
<circle cx="1529.6" cy="169.2" r="8" stroke="#4c4c4c" stroke-width="2.200"/><path d="M1529.6 164.89999999999998v8.600" stroke="#4c4c4c" stroke-width="2.400"/><path d="M1527.8 164.89999999999998h3.600M1527.8 173.5h3.600" stroke="#4c4c4c" stroke-width="1.100"/>
<path d="M1219.3 288.7H1524.3" stroke="#c2cde0" stroke-width="2.500" stroke-dasharray="5 5"/>
<path d="M1229.8 280.2C1234.2 281.7 1247.2 285.8 1255.9 289.3C1264.7 292.8 1273.4 303.8 1282.1 301.3C1290.8 298.7 1299.5 275.3 1308.2 274.1C1316.9 272.8 1325.6 294.5 1334.3 293.7C1343.0 292.9 1351.7 272.5 1360.4 269.3C1369.1 266.1 1377.8 268.3 1386.6 274.5C1395.3 280.7 1404.0 300.7 1412.7 306.3C1421.4 311.8 1430.1 307.2 1438.8 307.8C1447.5 308.4 1456.2 314.7 1464.9 310.0C1473.6 305.3 1482.3 284.5 1491.0 279.5C1499.7 274.5 1512.8 280.1 1517.2 280.2" stroke="#86a4cb" stroke-width="1.050"/>
<circle cx="1360.4" cy="269.3" r="5.600" fill="#fb0a0a" stroke="#a04040" stroke-width="1.200"/>
<circle cx="1464.9" cy="310.0" r="5.600" fill="#0c8410" stroke="#3a6a3a" stroke-width="1.200"/>
<path d="M1582.8 293.0H1887.8" stroke="#c2cde0" stroke-width="2.500" stroke-dasharray="5 5"/>
<path d="M1593.3 282.8C1598.3 283.1 1614.4 279.6 1623.1 284.5C1631.8 289.5 1637.4 308.4 1645.5 312.6C1653.7 316.8 1663.3 310.6 1672.1 310.0C1680.9 309.4 1689.5 313.8 1698.2 308.9C1706.9 304.0 1715.6 287.1 1724.3 280.6C1733.1 274.1 1741.8 266.4 1750.5 269.7C1759.2 273.1 1767.9 298.8 1776.6 300.6C1785.3 302.4 1793.9 279.9 1802.7 280.6C1811.5 281.3 1820.5 302.9 1829.3 305.0C1838.0 307.1 1846.7 296.0 1855.4 293.2C1864.1 290.4 1877.2 289.1 1881.5 288.2" stroke="#86a4cb" stroke-width="1.050"/>
<circle cx="1645.5" cy="312.6" r="5.600" fill="#0c8410" stroke="#3a6a3a" stroke-width="1.200"/>
<circle cx="1750.5" cy="269.7" r="5.600" fill="#fb0a0a" stroke="#a04040" stroke-width="1.200"/>
</svg>
<div class="panel" style="left:103.700px;top:403.500px;width:893.500px;height:321.600px"></div>
<div class="abs" style="left:113.200px;top:669px;width:471.300px;height:44px;background:linear-gradient(#f1f1f1,#f1f1f1 60%,#f6f6f6)"></div>
<svg class="abs" style="left:120.3px;top:422.6px" width="17" height="17" viewBox="0 0 15 15"><path d="M6.200 .8L.7 5.800l5.500 5v-3.200c3.300 0 5.600 1.100 6.800 4.800.6-5.600-2.200-9.200-6.800-9.600z" fill="#bdbdbd"/></svg><div class="t" style="left:141.8px;top:426px;font-size:13px;color:#cbcbcb;letter-spacing:0.1px;">Back</div>
<div class="abs" style="left:393.700px;top:421.500px;width:456.800px;height:31px;background:#698cb7;border:1.500px solid #8fb0d8;box-shadow:0 0 2px rgba(80,110,150,.6)"></div>
<div class="t" style="left:399.5px;top:431px;font-size:16.5px;color:#17263a;letter-spacing:-0.25px;">Number Of Intakes</div>
<svg class="abs" style="left:827px;top:428.500px" width="20" height="14" fill="none"><path d="M2 2.500l8 7.500l8-7.500" stroke="#1b2b40" stroke-width="1.600"/></svg>
<svg class="abs" style="left:920px;top:423px" width="18" height="16" fill="#8c8c8c"><rect x="1.300" y="8" width="2.100" height="6.500"/><rect x="4.300" y="5" width="2.100" height="9.500"/><rect x="7.300" y="2" width="2.100" height="12.500"/><rect x="10.300" y="3.500" width="2.100" height="11"/><rect x="13.300" y="3.500" width="2.100" height="11"/></svg>
<div class="t" style="left:943px;top:426.3px;font-size:13px;color:#a3a3a3;letter-spacing:-0.1px;">Year</div>
<svg class="abs" style="left:971px;top:428.300px" width="10" height="8"><path d="M.8 1.500h8l-4 4.500z" fill="#8e8e8e"/></svg>
<div class="abs" style="left:179.8px;top:669.500px;width:1.200px;height:18.500px;background:#dcdcdc"></div>
<div class="t" style="left:117.3px;top:674.800px;width:59.200px;text-align:center;font-size:12.500px;color:#222;letter-spacing:-.350px">2013</div>
<div class="abs" style="left:117.3px;top:665.600px;width:59.200px;height:3.400px;border-radius:3px 3px 0 0;background:#5f83b0"></div>
<div class="vl" style="left:138.7px;top:644.5px;width:17.0px;height:21.500px;line-height:17.500px">1</div>
<div class="abs" style="left:247.1px;top:669.500px;width:1.200px;height:18.500px;background:#dcdcdc"></div>
<div class="t" style="left:184.6px;top:674.800px;width:59.200px;text-align:center;font-size:12.500px;color:#222;letter-spacing:-.350px">2014</div>
<div class="abs" style="left:184.6px;top:665.600px;width:59.200px;height:3.400px;border-radius:3px 3px 0 0;background:#5f83b0"></div>
<div class="vl" style="left:205.9px;top:644.5px;width:17.0px;height:21.500px;line-height:17.500px">1</div>
<div class="abs" style="left:314.3px;top:669.500px;width:1.200px;height:18.500px;background:#dcdcdc"></div>
<div class="t" style="left:251.8px;top:674.800px;width:59.200px;text-align:center;font-size:12.500px;color:#222;letter-spacing:-.350px">2015</div>
<div class="abs" style="left:381.6px;top:669.500px;width:1.200px;height:18.500px;background:#dcdcdc"></div>
<div class="t" style="left:319.1px;top:674.800px;width:59.200px;text-align:center;font-size:12.500px;color:#222;letter-spacing:-.350px">2016</div>
<div class="abs" style="left:319.1px;top:665.600px;width:59.200px;height:3.400px;border-radius:3px 3px 0 0;background:#5f83b0"></div>
<div class="vl" style="left:340.4px;top:644.5px;width:17.0px;height:21.500px;line-height:17.500px">2</div>
<div class="abs" style="left:448.8px;top:669.500px;width:1.200px;height:18.500px;background:#dcdcdc"></div>
<div class="t" style="left:386.3px;top:674.800px;width:59.200px;text-align:center;font-size:12.500px;color:#222;letter-spacing:-.350px">2017</div>
<div class="abs" style="left:386.3px;top:500.4px;width:59.200px;height:168.4px;border-radius:4px 4px 3px 3px;background:linear-gradient(180deg,#6b8fba 0,#688cb7 42%,#4f6d95 75%,#405a7d 100%)"></div>
<div class="vl" style="left:392.2px;top:474.9px;width:47.0px;letter-spacing:-.350px">7,277</div>
<div class="abs" style="left:516.1px;top:669.500px;width:1.200px;height:18.500px;background:#dcdcdc"></div>
<div class="t" style="left:453.6px;top:674.800px;width:59.200px;text-align:center;font-size:12.500px;color:#222;letter-spacing:-.350px">2018</div>
<div class="abs" style="left:453.6px;top:520.5px;width:59.200px;height:148.3px;border-radius:4px 4px 3px 3px;background:linear-gradient(180deg,#6b8fba 0,#688cb7 42%,#4f6d95 75%,#405a7d 100%)"></div>
<div class="vl" style="left:459.4px;top:495.0px;width:47.0px;letter-spacing:-.350px">6,408</div>
<div class="abs" style="left:583.4px;top:669.500px;width:1.200px;height:18.500px;background:#dcdcdc"></div>
<div class="t" style="left:520.8px;top:674.800px;width:59.200px;text-align:center;font-size:12.500px;color:#222;letter-spacing:-.350px">2019</div>
<div class="abs" style="left:520.8px;top:518.0px;width:59.200px;height:150.8px;border-radius:4px 4px 3px 3px;background:linear-gradient(180deg,#6b8fba 0,#688cb7 42%,#4f6d95 75%,#405a7d 100%)"></div>
<div class="vl" style="left:526.6px;top:492.5px;width:47.0px;letter-spacing:-.350px">6,516</div>
<div class="abs" style="left:650.6px;top:669.500px;width:1.200px;height:18.500px;background:#e9e9e9"></div>
<div class="t" style="left:588.0px;top:674.800px;width:59.200px;text-align:center;font-size:12.500px;color:#222;letter-spacing:-.350px">2020</div>
<div class="abs" style="left:588.0px;top:563.7px;width:59.200px;height:105.1px;border-radius:4px 4px 3px 3px;background:linear-gradient(180deg,#6b8fba 0,#688cb7 42%,#4f6d95 75%,#405a7d 100%)"></div>
<div class="vl" style="left:593.9px;top:538.2px;width:47.0px;letter-spacing:-.350px">4,540</div>
<div class="abs" style="left:717.9px;top:669.500px;width:1.200px;height:18.500px;background:#e9e9e9"></div>
<div class="t" style="left:655.3px;top:674.800px;width:59.200px;text-align:center;font-size:12.500px;color:#222;letter-spacing:-.350px">2021</div>
<div class="abs" style="left:655.3px;top:564.8px;width:59.200px;height:104.0px;border-radius:4px 4px 3px 3px;background:linear-gradient(180deg,#6b8fba 0,#688cb7 42%,#4f6d95 75%,#405a7d 100%)"></div>
<div class="vl" style="left:661.1px;top:539.3px;width:47.0px;letter-spacing:-.350px">4,495</div>
<div class="abs" style="left:785.1px;top:669.500px;width:1.200px;height:18.500px;background:#e9e9e9"></div>
<div class="t" style="left:722.5px;top:674.800px;width:59.200px;text-align:center;font-size:12.500px;color:#222;letter-spacing:-.350px">2022</div>
<div class="abs" style="left:722.5px;top:540.3px;width:59.200px;height:128.5px;border-radius:4px 4px 3px 3px;background:linear-gradient(180deg,#6b8fba 0,#688cb7 42%,#4f6d95 75%,#405a7d 100%)"></div>
<div class="vl" style="left:728.4px;top:514.8px;width:47.0px;letter-spacing:-.350px">5,551</div>
<div class="abs" style="left:852.4px;top:669.500px;width:1.200px;height:18.500px;background:#e9e9e9"></div>
<div class="t" style="left:789.8px;top:674.800px;width:59.200px;text-align:center;font-size:12.500px;color:#222;letter-spacing:-.350px">2023</div>
<div class="abs" style="left:789.8px;top:523.1px;width:59.200px;height:145.7px;border-radius:4px 4px 3px 3px;background:linear-gradient(180deg,#6b8fba 0,#688cb7 42%,#4f6d95 75%,#405a7d 100%)"></div>
<div class="vl" style="left:795.6px;top:497.6px;width:47.0px;letter-spacing:-.350px">6,296</div>
<div class="abs" style="left:919.6px;top:669.500px;width:1.200px;height:18.500px;background:#e9e9e9"></div>
<div class="t" style="left:857.0px;top:674.800px;width:59.200px;text-align:center;font-size:12.500px;color:#222;letter-spacing:-.350px">2024</div>
<div class="abs" style="left:857.0px;top:539.9px;width:59.200px;height:128.9px;border-radius:4px 4px 3px 3px;background:linear-gradient(180deg,#6b8fba 0,#688cb7 42%,#4f6d95 75%,#405a7d 100%)"></div>
<div class="vl" style="left:862.9px;top:514.4px;width:47.0px;letter-spacing:-.350px">5,572</div>
<div class="t" style="left:924.3px;top:674.800px;width:59.200px;text-align:center;font-size:12.500px;color:#222;letter-spacing:-.350px">2025</div>
<div class="abs" style="left:924.3px;top:537.3px;width:59.200px;height:131.5px;border-radius:4px 4px 3px 3px;background:linear-gradient(180deg,#6b8fba 0,#688cb7 42%,#4f6d95 75%,#405a7d 100%)"></div>
<div class="vl" style="left:930.1px;top:511.8px;width:47.0px;letter-spacing:-.350px">5,684</div>
<div class="panel" style="left:1019.700px;top:403.500px;width:893.500px;height:321.600px"></div>
<div class="t" style="left:1030px;top:413px;font-size:19.5px;color:#333;letter-spacing:-0.55px;">Number Of Intake Per Pet Type</div>
<svg class="abs" style="left:1036.3px;top:445.1px" width="17" height="17" viewBox="0 0 15 15"><path d="M6.200 .8L.7 5.800l5.500 5v-3.200c3.300 0 5.600 1.100 6.800 4.800.6-5.600-2.200-9.200-6.800-9.600z" fill="#6a6a6a"/></svg><div class="t" style="left:1057.8px;top:448.5px;font-size:13px;color:#9a9a9a;letter-spacing:0.1px;">Back</div>
<svg class="abs" style="left:1826px;top:446.5px" width="70" height="18" viewBox="0 0 70 18" fill="none"><g stroke="#a8a8a8" stroke-width="1.300"><path d="M4.500 .9h9.500M4.500 5.100h9.500M4.500 9.300h9.500M4.500 13.500h9.500"/><path d="M.5 .9h2M.5 5.100h2M.5 9.300h2M.5 13.500h2"/></g><circle cx="60" cy="7.400" r="7.600" stroke="#8f8f8f" stroke-width="1.300"/><text x="60" y="11.400" text-anchor="middle" font-family="Liberation Sans" font-size="11" fill="#8f8f8f">?</text></svg><div class="t" style="left:1846.5px;top:449.0px;font-size:13px;color:#b0b0b0;">Lin</div>
<div class="hb" style="left:1114.1px;top:476.2px;width:607.0px;height:32.2px;background:linear-gradient(90deg,#3f5a7e 0,#47648a 94px,#6b8fba 376px)"></div>
<div class="cl" style="right:810.5px;top:485.7px">CAT</div>
<div class="vl" style="left:1729.9px;top:480.2px;width:56px;letter-spacing:-.350px">24,888</div>
<div class="hb" style="left:1114.1px;top:516.9px;width:409.9px;height:32.2px;background:linear-gradient(90deg,#3f5a7e 0,#47648a 64px,#6b8fba 254px)"></div>
<div class="cl" style="right:810.5px;top:526.4px">DOG</div>
<div class="vl" style="left:1532.8px;top:520.9px;width:56px;letter-spacing:-.350px">16,808</div>
<div class="hb" style="left:1114.1px;top:557.6px;width:91.5px;height:32.2px;background:linear-gradient(90deg,#3f5a7e 0,#47648a 14px,#6b8fba 57px)"></div>
<div class="cl" style="right:810.5px;top:567.1px">BIRD</div>
<div class="vl" style="left:1214.4px;top:561.6px;width:46.5px;letter-spacing:-.350px">3,751</div>
<div class="hb" style="left:1114.1px;top:598.4px;width:62.1px;height:32.2px;background:linear-gradient(90deg,#3f5a7e 0,#47648a 10px,#6b8fba 39px)"></div>
<div class="cl" style="right:810.5px;top:607.9px">OTHER</div>
<div class="vl" style="left:1185.0px;top:602.4px;width:46.5px;letter-spacing:-.350px">2,546</div>
<div class="hb" style="left:1114.1px;top:639.1px;width:60.0px;height:32.2px;background:linear-gradient(90deg,#3f5a7e 0,#47648a 9px,#6b8fba 37px)"></div>
<div class="cl" style="right:810.5px;top:648.6px">WILD</div>
<div class="vl" style="left:1182.9px;top:643.1px;width:46.5px;letter-spacing:-.350px">2,460</div>
<div class="hb" style="left:1114.1px;top:679.8px;width:24.4px;height:32.2px;background:linear-gradient(90deg,#3f5a7e 0,#47648a 4px,#6b8fba 15px)"></div>
<div class="cl" style="right:810.5px;top:689.3px">RABBIT</div>
<div class="vl" style="left:1144.5px;top:683.8px;width:35px;letter-spacing:-.350px">999</div>
<div class="abs" style="left:1489.7px;top:678.3px;width:38.4px;height:37.7px;background:#b3b3b3;border:1px solid #c4c4c4"></div><svg class="abs" style="left:1489.7px;top:678.3px" width="38.4" height="37.7" fill="none"><path d="M9.4 16.9l9.8 9.0l9.8 -9.0" stroke="#fff" stroke-width="1.300"/></svg>
<div class="panel" style="left:103.700px;top:739.700px;width:893.500px;height:321px"></div>
<div class="t" style="left:114px;top:747.5px;font-size:19.5px;color:#333;letter-spacing:-0.65px;">Which Location Saw More Intakes?</div>
<div class="t" style="left:114px;top:775.5px;font-size:17px;color:#5f5f5f;letter-spacing:-0.62px;">Zoom In For Area Detais</div>
<svg class="abs" style="left:113.6px;top:797.3px" width="874.6" height="254.2" viewBox="0 0 874.6 254.2">
<defs><filter id="bl" x="-5%" y="-5%" width="110%" height="110%"><feGaussianBlur stdDeviation=".7"/></filter></defs>
<rect width="874.6" height="254.2" fill="#aad3df"/>
<g filter="url(#bl)">
<path d="M238.1 -41.7L263.7 -26.7L276.8 -8.5L280.2 0.8L283.6 7.1L296.1 15.2L305.2 21.3L306.4 23.9L306.4 32.5L465.6 32.5L499.8 49.2L528.2 83.9L556.7 77.0L573.7 73.1L581.1 58.1L599.3 58.1L605.0 54.9L610.7 45.1L617.5 40.9L620.4 45.1L620.4 51.6L624.9 58.9L624.9 56.5L630.6 55.7L636.3 53.3L638.6 51.6L639.7 54.9L630.6 61.3L629.5 66.1L632.9 69.2L644.8 60.5L659.1 55.7L665.9 49.2L662.5 40.9L659.1 50.0L656.2 51.6L647.7 51.2L642.0 49.2L638.6 46.7L637.5 40.1L636.3 34.2L628.4 32.1L631.8 31.7L640.3 29.1L639.7 25.2L630.6 22.2L622.1 24.8L610.7 33.4L602.2 42.6L601.0 41.4L609.6 31.2L624.9 20.4L628.4 13.4L653.4 12.9L664.8 12.9L673.3 6.2L681.8 2.6L689.2 -4.8L690.4 -41.7L238.1 -41.7Z" fill="#f2efe9"/>
<path d="M339.9 148.7L342.8 155.6L347.3 163.6L354.1 176.6L351.9 179.9L359.8 186.9L367.8 197.6L378.6 207.6L380.9 210.7L383.4 207.0L377.5 200.8L372.9 191.3L366.1 181.8L360.4 172.1L354.1 162.3L353.0 153.6L362.7 157.6L367.8 170.1L374.6 178.6L383.7 191.3L391.7 197.6L400.8 208.9L405.9 219.3L405.3 226.0L412.7 233.9L425.8 240.5L437.2 247.0L454.3 253.0L465.6 251.8L477.0 257.1L482.7 264.2L516.8 270.0L532.2 264.2L532.2 258.3L528.2 253.6L516.8 253.0L505.5 254.1L500.3 253.0L503.8 243.5L506.6 238.7L508.3 231.5L512.3 221.1L511.2 219.3L505.5 218.7L492.4 222.4L490.1 232.7L483.8 236.9L479.9 236.9L469.1 239.6L465.6 236.9L459.4 233.3L452.6 223.6L449.7 214.4L450.3 203.9L453.4 191.7L442.3 188.8L440.0 181.8L433.2 171.4L429.2 166.9L421.8 167.5L419.0 172.1L411.6 168.2L408.8 160.9L400.2 153.8L390.6 153.8L390.6 156.8L374.2 156.8L353.0 148.9L353.5 147.4Z" fill="#f2efe9"/>
<path d="M275.6 8.0L279.0 14.3L289.9 23.9L296.1 28.2L304.1 30.0L302.9 24.8L293.8 12.5L282.5 7.1Z" fill="#f2efe9"/>
<path d="M668.7 35.9L677.3 35.5L687.5 36.3L690.4 41.8L698.9 42.6L704.6 43.8L706.6 36.7L703.4 28.2L700.6 21.3L688.7 15.2L683.0 3.5L690.4 0.8L680.1 8.9L676.1 19.6L669.3 28.2Z" fill="#f2efe9"/>
<path d="M639.2 16.1L648.3 17.8L655.1 23.1L647.7 22.2Z" fill="#f2efe9"/>
<path d="M639.7 43.8L647.7 45.9L653.4 45.5L650.5 49.2L643.1 46.7Z" fill="#f2efe9"/>
<path d="M523.1 217.2L528.2 211.9L535.1 209.8L544.2 209.2L553.8 213.2L563.5 217.5L573.7 221.8L584.0 226.9L583.4 228.1L568.0 229.0L564.1 229.3L566.9 225.4L560.7 223.0L552.1 218.7L540.7 215.0L535.1 212.9L528.8 216.3Z" fill="#f2efe9"/>
<path d="M582.6 238.4L588.5 239.0L598.2 240.5L599.9 242.6L605.0 239.3L615.3 239.3L617.3 236.9L610.1 233.9L608.4 230.6L598.2 229.3L590.2 229.0L588.5 230.6L591.9 232.7L594.2 236.9L588.0 237.2L582.6 236.6Z" fill="#f2efe9"/>
<path d="M560.4 239.0L568.0 241.4L572.6 241.1L568.6 238.1L562.9 237.5Z" fill="#f2efe9"/>
<path d="M562.4 186.9L566.9 187.8L568.0 189.4L563.5 187.8Z" fill="#f2efe9"/>
<path d="M561.2 196.4L563.8 202.0L564.6 203.9L562.4 200.1Z" fill="#f2efe9"/>
<path d="M569.8 195.1L572.6 197.0L572.9 199.5L571.5 197.6Z" fill="#f2efe9"/>
<path d="M586.8 221.8L590.2 221.1L589.7 222.7Z" fill="#f2efe9"/>
<path d="M482.7 43.4L489.5 41.8L491.8 44.7L499.8 41.8L505.5 37.6L508.9 45.1L514.0 45.1L522.5 42.6L525.4 45.1L524.8 38.4L517.4 32.9L514.0 26.5L504.3 24.8L498.1 32.5L496.4 32.5Z" fill="#b7d8e4"/>
<path d="M507.7 83.5L511.2 83.1L515.1 77.0L514.0 65.3L519.1 58.9L522.5 54.1L523.7 50.8L519.7 49.2L513.4 50.4L511.2 51.6L507.7 56.5L505.5 60.9L508.3 58.1L511.2 54.9L508.3 61.3L506.6 69.2L506.6 77.0Z" fill="#b7d8e4"/>
<path d="M524.2 50.4L531.6 55.7L532.2 62.9L528.8 68.1L531.1 67.7L534.2 64.9L536.2 66.1L537.0 73.1L541.3 70.0L541.3 62.1L543.6 55.7L551.0 61.3L552.1 58.1L546.4 50.0L539.6 48.4L530.5 48.4L528.2 49.2Z" fill="#b7d8e4"/>
<path d="M531.4 82.9L535.6 84.7L541.3 84.7L548.0 80.9L550.4 79.7L557.2 74.3L553.8 74.3L548.1 76.6L542.4 76.2L536.8 80.9L533.3 80.9Z" fill="#b7d8e4"/>
<path d="M552.1 70.8L556.4 71.2L565.2 71.2L572.6 68.8L572.6 64.5L570.9 63.7L565.2 65.7L556.7 66.9L553.3 68.8Z" fill="#b7d8e4"/>
</g>
<path d="M238.1 0V254.2" stroke="#c4e0e8" stroke-width="1" opacity=".8"/>
<path d="M494.1 0V254.2" stroke="#c4e0e8" stroke-width="1" opacity=".8"/>
<path d="M750.1 0V254.2" stroke="#c4e0e8" stroke-width="1" opacity=".8"/>
<path d="M0 88.6H874.6" stroke="#c4e0e8" stroke-width="1" opacity=".8"/>
<path d="M306.4 23.9L305.8 29.1L296.7 29.1L300.1 41.8L300.7 47.1L300.1 60.5L297.8 74.7L299.5 80.9L298.4 93.0L301.8 101.1L306.4 110.6L309.2 114.2L312.6 120.6L316.0 126.9L320.0 134.6L328.0 138.0L332.5 140.1L338.8 145.5L339.9 148.7L353.5 147.4L353.0 148.9L374.2 156.8L390.6 156.8L390.6 153.8L400.2 153.8L408.8 160.9L411.6 168.2L419.0 172.1L421.8 167.5L429.2 166.9L433.2 171.4L440.0 181.8L442.3 188.8L453.4 191.7L452.0 183.1L455.4 176.6L463.9 172.7L467.4 169.5L472.2 167.5L482.7 168.2L488.4 170.8L493.5 171.4L497.5 172.1L497.5 164.9L496.4 164.2L503.2 163.3L508.3 163.6L514.0 162.9L520.3 167.5L526.5 165.6L532.8 171.4L535.6 178.6L536.2 183.1L540.7 191.3L544.7 197.0L548.7 196.4L550.4 192.6L550.7 185.6L547.6 175.3L543.6 166.9L542.7 160.9L544.7 152.9L546.1 151.9L551.5 147.6L556.1 143.5L559.2 139.7L562.9 138.7L570.3 133.9L576.6 130.1L574.3 120.9L572.0 117.7L577.1 110.6L579.1 107.3L578.9 104.8L576.6 100.4L580.0 103.7L585.1 95.9L585.1 91.5L597.1 88.1L597.3 86.2L599.9 85.0L601.6 84.7L604.5 84.7L608.2 83.1L606.7 80.5L604.2 81.2L602.7 78.5L603.3 74.1L603.9 72.6L606.7 68.4L613.6 65.3L618.1 62.9L624.9 58.9L620.4 51.6L620.4 40.4L617.5 38.0L612.4 37.2L607.9 43.4L606.2 50.0L603.3 54.1L599.3 57.3L581.1 57.3L572.6 63.7L572.6 68.8L565.2 71.2L556.4 71.2L557.2 74.3L550.4 79.7L548.0 80.9L541.3 84.7L535.6 84.7L531.4 82.9L533.3 78.5L537.0 73.1L536.2 66.1L534.2 64.9L528.8 68.1L532.2 62.9L531.6 56.5L524.2 50.8L522.5 54.1L519.1 58.9L514.0 65.3L515.1 77.0L511.2 83.1L508.1 83.1L506.6 77.0L506.6 69.2L508.3 61.3L511.2 54.9L505.5 60.9L507.7 56.5L511.2 51.6L513.4 50.4L519.7 49.2L524.2 49.6L527.1 45.1L522.5 42.6L514.0 45.1L508.9 45.1L505.5 37.6L499.8 41.8L491.8 44.7L489.5 41.8L482.7 43.4L496.4 32.5L488.4 30.8L477.0 27.4L467.9 26.1L464.8 23.9L464.8 20.6L466.5 21.3L464.8 23.9Z" fill="#ede7d8" stroke="#2bb7a3" stroke-width="1.300" stroke-linejoin="round"/>
<path d="M299.5 80.9L323.4 80.9L323.4 103.3L354.0 131.8L355.3 136.6L353.6 142.8L354.7 145.5L353.5 147.4L339.9 148.7L338.8 145.5L332.5 140.1L328.0 138.0L320.0 134.6L316.0 126.9L312.6 120.6L309.2 114.2L306.4 110.6L301.8 101.1L298.4 93.0Z" fill="#6bf26e" stroke="#2bb7a3" stroke-width="1.200" stroke-linejoin="round"/>
<path d="M300.7 47.1L306.4 48.4L308.1 52.5L316.6 52.1L327.4 49.8L340.9 49.2M340.3 23.9L340.3 45.9L340.9 49.2L343.3 54.9L339.3 62.1L340.3 66.9L340.3 80.9M299.5 80.9L374.3 80.9M323.4 80.9L323.4 103.3L354.0 131.8L355.3 136.6L353.6 142.8L354.7 145.5L353.5 147.4M357.3 80.9L357.3 123.4L353.3 124.1L354.0 131.8M357.3 117.7L467.8 117.7M345.9 23.9L345.9 32.5L354.1 44.3L355.3 53.3L358.7 53.3L363.2 61.7L372.3 59.7L374.3 61.3L374.3 88.4L385.7 88.4L385.7 156.8M374.3 57.3L414.2 57.3M414.2 23.9L414.2 88.4M385.7 88.4L425.5 88.4L425.5 117.7M414.2 49.7L456.8 49.7M414.2 73.1L445.7 73.1L449.1 74.7L456.0 76.2L457.4 77.1M425.5 95.9L463.9 95.9M453.0 23.9L455.4 40.9L456.8 49.7L457.4 54.9L457.4 69.2L457.1 77.0L459.4 83.1L460.5 88.4L461.3 91.6L463.9 95.9L466.2 97.4L467.9 102.6L467.8 121.3L468.9 129.0L468.6 141.2M457.4 69.2L487.1 69.2M461.3 91.6L484.2 91.6L486.0 93.1M420.1 117.7L420.1 121.3L437.2 121.3L437.2 134.9L441.8 136.6L448.0 137.7L454.3 140.1L460.0 139.7L464.5 139.4L468.6 141.2L471.1 141.8L471.1 152.3L473.6 158.3L473.0 163.6L472.2 167.5M419.9 121.3L419.8 152.3L399.5 152.3L400.2 153.8M471.1 145.4L487.4 145.5M467.8 121.3L493.2 121.3L492.0 124.8L495.8 124.8M482.1 43.4L481.0 48.4L478.2 52.5L478.4 59.3L486.7 66.1L487.1 69.2L487.8 75.5L490.4 76.9L493.0 82.4L487.8 86.9L488.4 89.2L486.0 93.1L486.1 96.7L490.1 103.3L493.0 105.5L492.1 109.1L496.9 115.6L499.0 117.9L497.5 121.3L495.8 124.8L493.5 131.1L492.4 131.8L490.7 135.3L487.8 140.8L487.4 145.5L489.0 150.3L486.1 155.0L485.0 159.0L495.6 159.0L495.2 160.9L496.4 164.2M490.4 77.0L506.6 77.0M491.8 44.7L499.2 48.4L504.9 50.0L506.6 54.5L507.7 56.5M508.1 83.1L508.1 100.7L507.7 105.5L505.5 110.6L504.9 112.0M499.0 117.9L502.6 117.0L504.9 112.0L508.9 111.3L514.0 110.6L517.4 108.4L520.3 105.5L523.6 102.6L525.4 102.6L529.9 105.9L536.2 107.5L538.5 106.2L541.0 103.3L543.0 100.4L546.1 98.2L548.0 91.2M523.6 102.6L523.6 83.1M510.0 82.7L523.6 83.1L531.4 82.9M548.0 80.9L548.0 98.0L574.9 98.0L574.9 107.3L579.1 107.3M552.3 78.8L552.3 80.9L577.4 80.9L581.1 85.7L578.7 88.7L578.3 91.5L580.8 94.4L577.1 97.4L576.6 100.4M581.1 85.7L585.7 88.4M553.9 98.0L553.9 101.8L559.5 99.6L564.0 101.0L567.5 104.0L566.3 107.7L572.0 110.9M564.0 101.0L560.4 100.4L557.4 105.1L553.0 106.2L549.3 114.2L544.2 116.0L539.8 113.9L537.9 112.7L536.2 107.5M539.8 113.9L533.3 118.5L530.0 120.6M496.9 121.3L530.0 120.6L574.3 120.9M541.4 120.7L539.6 124.1L534.5 125.2L528.2 129.7L526.4 131.8M492.4 131.8L533.3 131.8L537.3 130.4L545.0 131.1L545.9 133.2L552.7 133.2L559.2 139.7M533.3 131.8L534.5 135.3L539.6 142.1L543.0 146.9L546.1 151.9M519.1 131.8L521.4 146.4L522.5 150.3L522.5 159.0L523.3 160.9L538.5 161.8L539.6 162.9L542.7 160.9M508.3 163.6L507.7 159.0L522.5 159.0M504.3 131.8L502.8 152.9L503.2 163.3M588.8 57.3L588.5 68.4L589.4 75.1L588.0 80.5L588.0 86.2L587.1 88.4M599.3 57.3L596.5 62.9L594.8 68.4L593.9 75.2M589.4 75.1L600.5 75.2L603.3 74.1M588.0 80.5L600.0 80.7L600.0 81.6L601.6 84.7M597.6 80.7L597.3 86.2M601.7 54.9L602.4 70.0L603.9 72.6" fill="none" stroke="#2bb7a3" stroke-width="1.200" stroke-linejoin="round"/>
<path d="M623.5 238.4L624.1 240.5L631.2 240.7L632.8 239.0L630.6 237.7L624.4 237.5Z" fill="#ede7d8" stroke="#2bb7a3" stroke-width="1.100"/>
<path d="M118.3 230.0L119.5 226.8L123.7 229.3L125.3 231.5L121.5 233.9L120.4 235.0L118.9 232.7Z" fill="#ede7d8" stroke="#2bb7a3" stroke-width="1.100"/>
<path d="M114.6 223.0L116.9 222.7L118.6 223.9L116.3 224.8Z" fill="#f2efe9" stroke="none"/>
<path d="M105.8 219.0L107.5 218.1L109.1 220.5L106.7 220.5Z" fill="#f2efe9" stroke="none"/>
<path d="M97.3 215.6L99.6 215.0L99.6 216.9L97.6 216.6Z" fill="#f2efe9" stroke="none"/>
<text x="445.7" y="122.6" text-anchor="middle" font-family="Liberation Sans" font-size="10.500" fill="#b9a8b4" opacity=".55">United States</text>
<text x="421.4" y="210.70000000000005" text-anchor="middle" font-family="Liberation Sans" font-size="10" fill="#a58aa0">México</text>
<path d="M307.4 51.2C305.6 48.3 297.9 43.3 297.9 38.3A10 10 0 1 1 316.9 38.3C316.9 43.3 309.2 48.3 307.4 51.2Z" fill="#6a8bb5"/><text x="307.4" y="41.1" text-anchor="middle" font-family="Liberation Sans" font-size="16" fill="#fff" letter-spacing="-.4">1</text>
<path d="M438.1 84.2C436.3 81.3 428.6 74.7 428.6 69.7A10 10 0 1 1 447.6 69.7C447.6 74.7 439.9 81.3 438.1 84.2Z" fill="#6a8bb5"/><text x="438.1" y="72.5" text-anchor="middle" font-family="Liberation Sans" font-size="16" fill="#fff" letter-spacing="-.4">1</text>
<path d="M489.9 121.2C488.1 118.3 480.4 111.7 480.4 106.7A10 10 0 1 1 499.4 106.7C499.4 111.7 491.7 118.3 489.9 121.2Z" fill="#6a8bb5"/><text x="489.9" y="109.5" text-anchor="middle" font-family="Liberation Sans" font-size="16" fill="#fff" letter-spacing="-.4">3</text>
<path d="M584.9 92.7C583.1 89.8 575.4 83.2 575.4 78.2A10 10 0 1 1 594.4 78.2C594.4 83.2 586.7 89.8 584.9 92.7Z" fill="#6a8bb5"/><text x="584.9" y="81.0" text-anchor="middle" font-family="Liberation Sans" font-size="16" fill="#fff" letter-spacing="-.4">3</text>
<path d="M537.4 182.2C535.6 179.3 527.9 172.7 527.9 167.7A10 10 0 1 1 546.9 167.7C546.9 172.7 539.2 179.3 537.4 182.2Z" fill="#6a8bb5"/><text x="537.4" y="170.5" text-anchor="middle" font-family="Liberation Sans" font-size="16" fill="#fff" letter-spacing="-.4">1</text>
<path d="M442.2 232.2C440.4 229.3 432.7 222.7 432.7 217.7A10 10 0 1 1 451.7 217.7C451.7 222.7 444.0 229.3 442.2 232.2Z" fill="#6a8bb5"/><text x="442.2" y="220.5" text-anchor="middle" font-family="Liberation Sans" font-size="16" fill="#fff" letter-spacing="-.4">2</text>
<path d="M333.8 136.3C328.5 127.7 305.7 107.4 305.6 92.6A29.6 29.6 0 1 1 362.0 92.6C361.9 107.4 339.1 127.7 333.8 136.3Z" fill="#6a8bb5"/><text x="333.8" y="90.6" text-anchor="middle" font-family="Liberation Sans" font-size="15.8" fill="#fff" letter-spacing="-.4">52,332</text>
</svg>
<div class="abs" style="left:125px;top:808px;width:29.500px;height:60.500px;border-radius:3px;background:#fff;box-shadow:0 0 3px rgba(0,0,0,.35)"></div>
<div class="abs" style="left:125px;top:838.500px;width:29.500px;height:30px;border-radius:0 0 3px 3px;background:#f6f6f6;border-top:1px solid #d9d9d9"></div>
<div class="abs" style="left:133px;top:822.500px;width:13px;height:2.400px;background:#111"></div><div class="abs" style="left:138.300px;top:817.200px;width:2.400px;height:13px;background:#111"></div>
<div class="abs" style="left:133.500px;top:853.500px;width:12px;height:1.400px;background:#c4c4c4"></div>
<div class="abs" style="left:119.500px;top:991.500px;width:30.500px;height:30.500px;border-radius:3px;background:rgba(255,255,255,.62);box-shadow:0 0 2px rgba(0,0,0,.18)"></div>
<svg class="abs" style="left:126px;top:998px" width="18" height="18" fill="none" stroke="#8d8d8d" stroke-width="1.500"><path d="M3.200 8.500a5.800 5.800 0 0 1 10.600-2.800"/><path d="M14.800 9.500a5.800 5.800 0 0 1-10.600 2.800"/><path d="M14.600 2.500v3.700h-3.700M3.400 15.500v-3.700h3.700" stroke-width="1.300"/></svg>
<svg class="abs" style="left:961px;top:806px" width="20" height="20" fill="none"><circle cx="9.500" cy="9.500" r="7.400" stroke="#9aa7ad" stroke-width="1.300"/><text x="9.500" y="13.400" text-anchor="middle" font-family="Liberation Sans" font-size="11" fill="#9aa7ad">?</text></svg>
<div class="abs" style="left:114.500px;top:1033.500px;width:451px;height:17.500px;background:rgba(255,255,255,.72)"></div>
<div class="t" style="left:118.500px;top:1035.500px;font-size:13px;color:#333;letter-spacing:-.400px;-webkit-text-stroke:.300px">© <span style="color:#0078a8">OpenStreetMap</span> contributors, © US shape files by <span style="color:#0078a8">US Census Bureau</span> (modified)</div>
<div class="panel" style="left:1019.700px;top:739.700px;width:893.500px;height:321px"></div>
<div class="t" style="left:1030px;top:747.5px;font-size:19.5px;color:#333;letter-spacing:-0.5px;">Do Certain Intake Type Lead To Different Outcomes?</div>
<div class="t" style="left:1030px;top:776px;font-size:17px;color:#7d7d7d;letter-spacing:-0.56px;">Drill Down Intake Type → Outcome Type→ Intake Condition</div>
<svg class="abs" style="left:1036.3px;top:810.1px" width="17" height="17" viewBox="0 0 15 15"><path d="M6.200 .8L.7 5.800l5.500 5v-3.200c3.300 0 5.600 1.100 6.800 4.800.6-5.600-2.200-9.200-6.800-9.600z" fill="#6a6a6a"/></svg><div class="t" style="left:1057.8px;top:813.5px;font-size:13px;color:#9a9a9a;letter-spacing:0.1px;">Back</div>
<svg class="abs" style="left:1826px;top:811.5px" width="70" height="18" viewBox="0 0 70 18" fill="none"><g stroke="#a8a8a8" stroke-width="1.300"><path d="M4.500 .9h9.500M4.500 5.100h9.500M4.500 9.300h9.500M4.500 13.500h9.500"/><path d="M.5 .9h2M.5 5.100h2M.5 9.300h2M.5 13.500h2"/></g><circle cx="60" cy="7.400" r="7.600" stroke="#8f8f8f" stroke-width="1.300"/><text x="60" y="11.400" text-anchor="middle" font-family="Liberation Sans" font-size="11" fill="#8f8f8f">?</text></svg><div class="t" style="left:1846.5px;top:814.0px;font-size:13px;color:#b0b0b0;">Lin</div>
<div class="hb" style="left:1169.5px;top:841.4px;width:564.5px;height:33.7px;background:linear-gradient(90deg,#3f5a7e 0,#47648a 87px,#6b8fba 350px)"></div>
<div class="cl" style="right:754.8px;top:851.6px">STRAY</div>
<div class="vl" style="left:1742.8px;top:846.1px;width:56px;letter-spacing:-.350px">36,780</div>
<div class="hb" style="left:1169.5px;top:884.2px;width:125.1px;height:33.7px;background:linear-gradient(90deg,#3f5a7e 0,#47648a 19px,#6b8fba 78px)"></div>
<div class="cl" style="right:754.8px;top:894.4px">WILDLIFE</div>
<div class="vl" style="left:1303.4px;top:888.9px;width:46.5px;letter-spacing:-.350px">8,150</div>
<div class="hb" style="left:1169.5px;top:927.0px;width:70.6px;height:33.7px;background:linear-gradient(90deg,#3f5a7e 0,#47648a 11px,#6b8fba 44px)"></div>
<div class="cl" style="right:754.8px;top:937.2px">OWNER SURRENDER</div>
<div class="vl" style="left:1248.9px;top:931.8px;width:46.5px;letter-spacing:-.350px">4,599</div>
<div class="hb" style="left:1169.5px;top:969.8px;width:14.4px;height:33.7px;background:linear-gradient(90deg,#3f5a7e 0,#47648a 2px,#6b8fba 9px)"></div>
<div class="cl" style="right:754.8px;top:980.0px">WELFARE SEIZED</div>
<div class="vl" style="left:1189.9px;top:974.5px;width:35px;letter-spacing:-.350px">938</div>
<div class="hb" style="left:1169.5px;top:1012.6px;width:10.4px;height:33.7px;background:linear-gradient(90deg,#3f5a7e 0,#47648a 2px,#6b8fba 6px)"></div>
<div class="cl" style="right:754.8px;top:1022.8px">CONFISCATE</div>
<div class="vl" style="left:1185.9px;top:1017.3px;width:35px;letter-spacing:-.350px">678</div>
<div class="abs" style="left:1521.9px;top:1022.2px;width:29.4px;height:28.4px;background:#b3b3b3;border:1px solid #c4c4c4"></div><svg class="abs" style="left:1521.9px;top:1022.2px" width="29.4" height="28.4" fill="none"><path d="M7.2 12.7l7.5 6.9l7.5 -6.9" stroke="#fff" stroke-width="1.300"/></svg>
</body></html>
